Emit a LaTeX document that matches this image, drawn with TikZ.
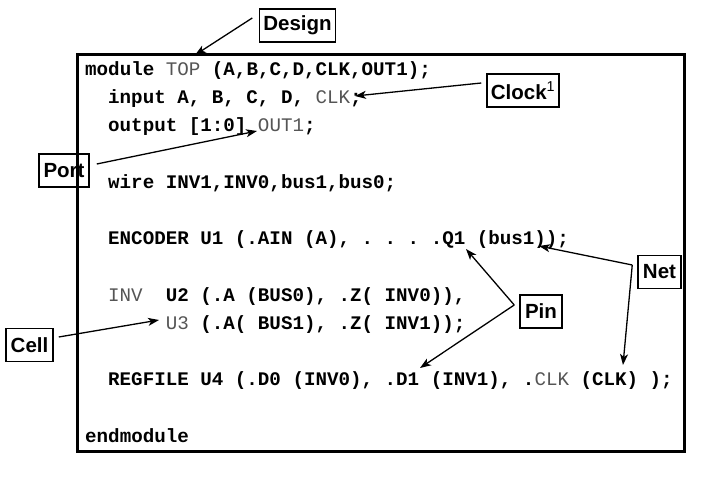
\documentclass[tikz,border=0pt]{standalone}
\usepackage{fontspec}
\setmainfont{Liberation Sans}
\setmonofont{Liberation Mono}
\usetikzlibrary{arrows.meta,calc}
\definecolor{cg}{HTML}{555555}
\newcommand{\gt}[1]{{\mdseries\color{cg}#1}}
\tikzset{
  codeline/.style={anchor=base west, inner sep=0pt, font=\ttfamily\bfseries\fontsize{19.2}{22}\selectfont},
  labelbox/.style={draw, line width=1.5pt, inner sep=0pt, font=\bfseries\fontsize{20.5}{22}\selectfont, minimum height=33pt},
  callout/.style={line width=1.3pt, -{Stealth[length=11pt,width=8pt,inset=3pt]}},
  framebox/.style={draw, line width=3pt, minimum width=607pt, minimum height=397pt, inner sep=0pt}
}
\begin{document}
\begin{tikzpicture}[x=1pt,y=-1pt]
\frenchspacing
\useasboundingbox (0,0) rectangle (728,479);
\node[framebox] (frame) at (381,253) {};
% code lines
\node[codeline] (l1) at (85,75.5) {module \gt{TOP} (A,B,C,D,CLK,OUT1);};
\node[codeline] (l2) at (108,103.7) {input A, B, C, D, \gt{CLK};};
\node[codeline] (l3) at (108,131.9) {output [1:0] \gt{OUT1};};
\node[codeline] (l4) at (108,188.3) {wire INV1,INV0,bus1,bus0;};
\node[codeline] (l5) at (108,244.7) {ENCODER U1 (.AIN (A), . . . .Q1 (bus1));};
\node[codeline] (l6) at (108,301.1) {\gt{INV}~~U2 (.A (BUS0), .Z( INV0)),};
\node[codeline] (l7) at (108,329.3) {~~~~~\gt{U3} (.A( BUS1), .Z( INV1));};
\node[codeline] (l8) at (108,385.7) {REGFILE U4 (.D0 (INV0), .D1 (INV1), .\gt{CLK} (CLK) );};
\node[codeline] (l9) at (85,442.1) {endmodule};
% label boxes
\node[labelbox, minimum width=76pt] (design) at (297.5,25.5) {Design};
\node[labelbox, minimum width=72pt] (clock) at (523,90.5) {Clock\textsuperscript{\mdseries 1}};
\node[labelbox, minimum width=50pt] (port) at (64,170.5) {Port};
\node[labelbox, minimum width=47pt] (cell) at (29.5,345) {Cell};
\node[labelbox, minimum width=42pt] (pin) at (541,311.5) {Pin};
\node[labelbox, minimum width=43pt] (net) at (659.5,272) {Net};
% arrow tips
\coordinate (tDesign) at (195,55);
\coordinate (tClock) at (355,96);
\coordinate (tPort) at (257,131);
\coordinate (tCell) at (159,320);
\coordinate (tPinA) at (466,249);
\coordinate (tPinB) at (420,368);
\coordinate (tNetA) at (539,246);
\coordinate (tNetB) at (623,365);
% connectors
\draw[callout] ($(design.west)+(-6.5,-7.5)$) -- (tDesign);
\draw[callout] ($(clock.west)+(-5,-7.5)$) -- (tClock);
\draw[callout] ($(port.east)+(7,-6.5)$) -- (tPort);
\draw[callout] ($(cell.east)+(5,-8)$) -- (tCell);
\draw[callout] ($(pin.west)+(-5,-6.5)$) -- (tPinA);
\draw[callout] ($(pin.west)+(-5,-6.5)$) -- (tPinB);
\draw[callout] ($(net.west)+(-5,-7)$) -- (tNetA);
\draw[callout] ($(net.west)+(-5,-7)$) -- (tNetB);
\end{tikzpicture}
\end{document}
